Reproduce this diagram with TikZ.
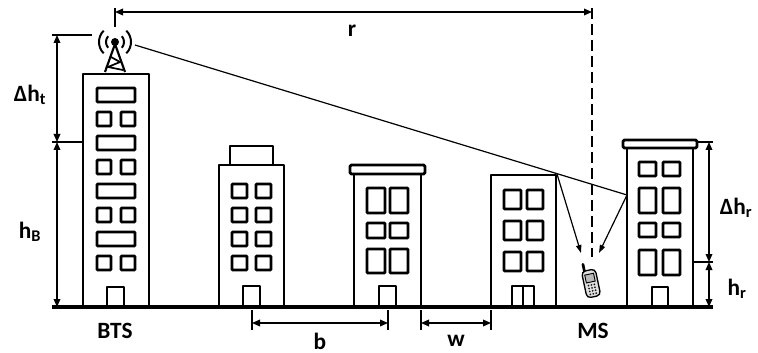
\documentclass[tikz,border=0pt]{standalone}
\usepackage{fontspec}
\setmainfont{Carlito}
\usetikzlibrary{arrows.meta}

\begin{document}
\begin{tikzpicture}[
    x=0.75pt, y=-0.75pt,
    every node/.style={font=\fontsize{17.5}{20}\selectfont\bfseries},
    wall/.style={line width=2.2pt, line join=round},
    win/.style={line width=2.1pt, rounded corners=0.7pt},
    thin/.style={line width=0.9pt},
    dim/.style={{Triangle[length=6pt,width=5pt]}-{Triangle[length=6pt,width=5pt]}, line width=0.9pt},
    arr/.style={-{Triangle[length=6pt,width=4pt]}, line width=0.9pt}
  ]
    \useasboundingbox (0,0) rectangle (758,353);

    % BTS building
    \draw[wall] (83,307) rectangle (149,74);
    \foreach \y in {88,136,184,232}
      \draw[win] (97,\y) rectangle (135,\y+14);
    \foreach \y in {112,160,208,256} {
      \draw[win] (97,\y) rectangle (111,\y+14);
      \draw[win] (121,\y) rectangle (135,\y+14);
    }
    \draw[wall] (107,307) |- (124,287) -- (124,307);

    % mast on the roof
    \draw[line width=1.6pt, line join=round] (105,72) -- (115,44) -- (125,72);
    \draw[line width=1.3pt] (111,57) -- (120,62) -- (108,67) -- (123,70);
    \fill (115,42) circle (4);
    \draw[line width=1.5pt] (115,42) ++(40:9) arc (40:-40:9);
    \draw[line width=1.5pt] (115,42) ++(140:9) arc (140:220:9);
    \draw[line width=1.5pt] (115,42) ++(45:16) arc (45:-45:16);
    \draw[line width=1.5pt] (115,42) ++(135:16) arc (135:225:16);

    % second block
    \draw[wall] (230,165) rectangle (273,146);
    \draw[wall] (219,307) rectangle (284,165);
    \foreach \y in {184,208,232,256} {
      \draw[win] (232,\y) rectangle (247,\y+14);
      \draw[win] (256,\y) rectangle (271,\y+14);
    }
    \draw[wall] (243,307) |- (260,286) -- (260,307);

    % third block
    \draw[wall] (354,307) rectangle (421,174);
    \draw[wall, rounded corners=1pt] (350,165) rectangle (425,174);
    \foreach \x in {367,390} {
      \draw[win] (\x,188) rectangle (\x+18,213);
      \draw[win] (\x,223) rectangle (\x+18,238);
      \draw[win] (\x,249) rectangle (\x+18,273);
    }
    \draw[wall] (379,307) |- (396,286) -- (396,307);

    % fourth block
    \draw[wall] (491,307) rectangle (556,175);
    \foreach \y in {190,221,252} {
      \draw[win] (504,\y) rectangle (521,\y+19);
      \draw[win] (527,\y) rectangle (543,\y+19);
    }
    \draw[wall] (512,307) |- (534,286) -- (534,307);
    \draw[wall] (523,286) -- (523,307);

    % MS block
    \draw[wall] (627,307) rectangle (693,148);
    \draw[wall, rounded corners=1pt] (623,140) rectangle (697,148);
    \foreach \x in {639,663} {
      \draw[win] (\x,162) rectangle (\x+17,176);
      \draw[win] (\x,188) rectangle (\x+17,213);
      \draw[win] (\x,223) rectangle (\x+17,237);
      \draw[win] (\x,250) rectangle (\x+17,275);
    }
    \draw[wall] (652,307) |- (668,287) -- (668,307);

    % handset
    \begin{scope}[shift={(591,283)}, rotate=12]
      \draw[line width=2pt, line cap=round] (-4,-12) -- (-4,-20);
      \draw[line width=1pt, fill=gray!25, rounded corners=3pt] (-7,-13) rectangle (7,14);
      \draw[line width=0.7pt, fill=gray!55] (-4.5,-9) rectangle (4.5,-1);
      \foreach \i in {-3,0,3}
        \foreach \j in {2,5,8,11}
          \fill[gray!20!black] (\i,\j) circle (1);
    \end{scope}

    % ground
    \coordinate (gw) at (52,307);
    \coordinate (ge) at (713,307);
    \draw[line width=3pt] (gw) -- (ge);

    % propagation paths
    \coordinate (ant) at (135,45);
    \coordinate (edge) at (557,174);
    \coordinate (face) at (627,195);
    \coordinate (rx1) at (581,253);
    \coordinate (rx2) at (599,253);
    \draw[thin] (ant) -- (face);
    \draw[arr] (edge) -- (rx1);
    \draw[arr] (face) -- (rx2);

    % distance r
    \coordinate (r0) at (115,12);
    \coordinate (r1) at (592,12);
    \draw[thin] (115,8) -- (115,27);
    \draw[thin, dash pattern=on 8pt off 4pt] (592,8) -- (592,257);
    \draw[dim] (r0) -- (r1);
    \node (lblr) at (352,31) {r};

    % heights at the BTS
    \coordinate (ht0) at (57,35);
    \coordinate (ht1) at (57,142);
    \coordinate (hb1) at (57,307);
    \draw[thin] (52,35) -- (92,35);
    \draw[thin] (52,142) -- (83,142);
    \draw[dim] (ht0) -- (ht1);
    \draw[dim] (ht1) -- (hb1);
    \node (lbldht) at (30,95) {Δh\textsubscript{t}};
    \node (lblhb) at (30,232) {h\textsubscript{B}};

    % heights at the MS
    \coordinate (hr0) at (709,142);
    \coordinate (hr1) at (709,262);
    \coordinate (hr2) at (709,307);
    \draw[thin] (697,142) -- (713,142);
    \draw[thin] (693,262) -- (713,262);
    \draw[dim] (hr0) -- (hr1);
    \draw[dim] (hr1) -- (hr2);
    \node (lbldhr) at (736,208) {Δh\textsubscript{r}};
    \node (lblhr) at (737,289) {h\textsubscript{r}};

    % spacing b and street width w
    \coordinate (b0) at (252,323);
    \coordinate (b1) at (388,323);
    \coordinate (w0) at (421,323);
    \coordinate (w1) at (491,323);
    \foreach \x in {252,388,421,491}
      \draw[thin] (\x,310) -- (\x,330);
    \draw[dim] (b0) -- (b1);
    \draw[dim] (w0) -- (w1);
    \node (lblb) at (320,341) {b};
    \node (lblw) at (456,341) {w};

    \node (bts) at (115,331) {BTS};
    \node (ms) at (593,331) {MS};
  \end{tikzpicture}
\end{document}
